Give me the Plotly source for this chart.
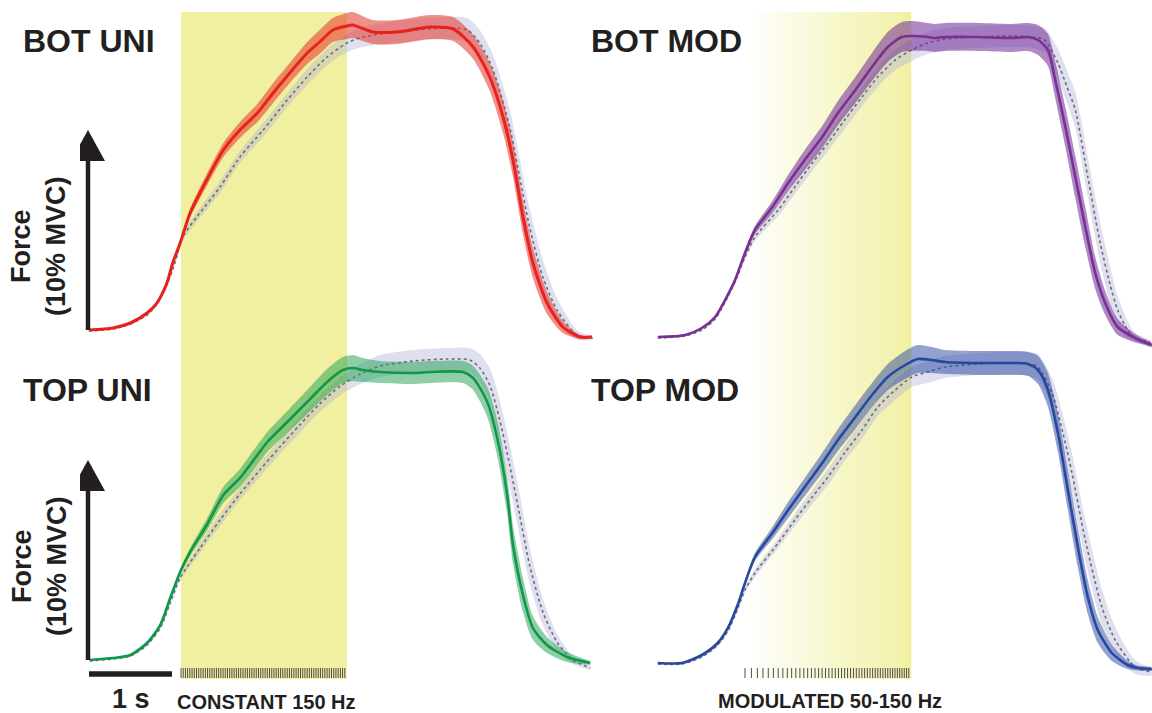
import numpy as np
import plotly.graph_objects as go

W, H = 1152, 713

# ---------------- data: time (s, 0 = stimulation onset), force (% MVC) ----------------
STIM_DUR = 2.0  # s

# BOT UNI (red) + its control
bu_t = [-1.11, -0.82, -0.61, -0.41, -0.29, -0.17, -0.10, -0.01, 0.11, 0.31, 0.51, 0.71, 0.92, 1.11, 1.31, 1.52, 1.67, 1.83,
        2.0, 2.07, 2.31, 2.60, 3.0, 3.28, 3.52, 3.72, 3.88, 4.0, 4.12, 4.24, 4.41, 4.60, 4.81, 4.95]
bu_f = [0.35, 0.45, 0.7, 1.2, 1.7, 2.7, 3.7, 4.7, 6.2, 7.85, 9.35, 10.35, 11.2, 12.2, 13.2, 14.2, 14.75, 15.35,
        15.55, 15.6, 15.25, 15.25, 15.5, 15.4, 14.5, 13.0, 11.0, 8.85, 6.0, 3.7, 1.7, 0.5, 0.0, 0.0]
bu_sd = [0.03, 0.03, 0.05, 0.08, 0.1, 0.12, 0.15, 0.18, 0.22, 0.3, 0.35, 0.4, 0.45, 0.5, 0.5, 0.55, 0.6, 0.6,
         0.65, 0.65, 0.6, 0.6, 0.6, 0.6, 0.6, 0.7, 0.8, 0.85, 0.85, 0.75, 0.55, 0.3, 0.1, 0.08]
bu_ctrl_t = [-1.11, -0.82, -0.61, -0.41, -0.29, -0.17, -0.07, 0.02, 0.19, 0.47, 0.71, 0.99, 1.28, 1.52, 1.76, 2.0,
             2.19, 2.60, 3.20, 3.45, 3.60, 3.76, 3.96, 4.08, 4.20, 4.36, 4.53, 4.77, 4.96]
bu_ctrl_f = [0.3, 0.4, 0.65, 1.1, 1.65, 2.6, 3.75, 5.0, 6.0, 7.5, 9.0, 10.35, 11.85, 13.0, 14.0, 14.7,
             15.0, 15.25, 15.45, 15.35, 14.7, 13.35, 10.5, 8.0, 5.5, 3.0, 1.35, 0.1, -0.05]
bu_ctrl_sd = [0.03, 0.03, 0.05, 0.08, 0.1, 0.12, 0.15, 0.2, 0.25, 0.3, 0.3, 0.35, 0.35, 0.4, 0.4, 0.45,
              0.5, 0.55, 0.55, 0.6, 0.65, 0.75, 0.9, 0.95, 0.95, 0.85, 0.6, 0.25, 0.1]

# TOP UNI (green) + its control
tu_t = [-1.10, -0.82, -0.61, -0.41, -0.25, -0.13, -0.01, 0.11, 0.31, 0.51, 0.71, 0.92, 1.04, 1.28, 1.52, 1.76,
        1.95, 2.07, 2.19, 2.40, 2.80, 3.0, 3.40, 3.52, 3.69, 3.81, 3.93, 4.0, 4.12, 4.24, 4.41, 4.65, 4.93]
tu_f = [0.15, 0.25, 0.4, 1.0, 1.9, 3.25, 4.55, 5.55, 6.9, 8.4, 9.25, 10.4, 11.05, 12.05, 13.05, 14.05,
        14.65, 14.75, 14.65, 14.55, 14.5, 14.55, 14.55, 14.25, 13.05, 11.25, 8.4, 5.9, 3.4, 1.75, 0.9, 0.3, 0.0]
tu_sd = [0.03, 0.03, 0.05, 0.08, 0.1, 0.12, 0.15, 0.2, 0.3, 0.4, 0.45, 0.5, 0.5, 0.55, 0.6, 0.65,
         0.65, 0.65, 0.6, 0.55, 0.55, 0.55, 0.55, 0.6, 0.75, 0.9, 0.95, 0.95, 0.85, 0.6, 0.4, 0.25, 0.1]
tu_ctrl_t = [-1.10, -0.82, -0.61, -0.41, -0.25, -0.13, -0.01, 0.23, 0.47, 0.71, 0.95, 1.19, 1.43, 1.67, 1.92, 2.16,
             2.40, 2.80, 3.20, 3.48, 3.60, 3.72, 3.84, 3.96, 4.08, 4.20, 4.36, 4.53, 4.72, 4.93]
tu_ctrl_f = [0.1, 0.2, 0.35, 0.9, 1.75, 3.0, 4.25, 5.75, 7.15, 8.45, 9.65, 10.8, 11.9, 12.95, 13.85, 14.45,
             14.85, 15.1, 15.2, 15.15, 14.75, 13.9, 12.15, 9.9, 7.4, 4.9, 2.55, 1.05, 0.15, -0.25]
tu_ctrl_sd = [0.03, 0.03, 0.05, 0.08, 0.1, 0.12, 0.15, 0.25, 0.3, 0.3, 0.35, 0.35, 0.4, 0.4, 0.45, 0.5,
              0.55, 0.55, 0.55, 0.6, 0.7, 0.85, 1.0, 1.05, 1.05, 0.9, 0.65, 0.4, 0.2, 0.1]

# BOT MOD (purple) + its control
bm_t = [-1.05, -0.72, -0.52, -0.36, -0.24, -0.12, 0.0, 0.12, 0.33, 0.52, 0.72, 0.93, 1.12, 1.33, 1.53, 1.72,
        1.89, 2.01, 2.20, 2.29, 2.41, 2.81, 3.22, 3.41, 3.53, 3.65, 3.73, 3.86, 3.98, 4.10, 4.22, 4.34, 4.49, 4.70, 4.90]
bm_f = [0.0, 0.1, 0.45, 1.0, 1.85, 2.85, 4.2, 5.35, 6.5, 7.7, 8.85, 10.0, 11.2, 12.35, 13.5, 14.5,
        15.0, 15.05, 15.0, 14.95, 15.0, 15.0, 14.95, 15.0, 14.85, 14.35, 13.0, 10.5, 8.0, 5.5, 3.2, 1.7, 0.5, -0.05, -0.4]
bm_sd = [0.03, 0.03, 0.05, 0.08, 0.1, 0.12, 0.15, 0.2, 0.3, 0.4, 0.5, 0.55, 0.6, 0.65, 0.7, 0.75,
         0.75, 0.75, 0.7, 0.7, 0.7, 0.7, 0.7, 0.7, 0.75, 0.8, 0.9, 1.0, 1.05, 1.0, 0.8, 0.6, 0.4, 0.2, 0.12]
bm_ctrl_t = [-1.05, -0.72, -0.52, -0.36, -0.24, -0.12, 0.0, 0.12, 0.40, 0.60, 0.81, 1.0, 1.20, 1.41, 1.60, 1.81,
             2.01, 2.20, 2.41, 2.81, 3.22, 3.46, 3.61, 3.77, 3.88, 3.98, 4.13, 4.28, 4.40, 4.49, 4.61, 4.70, 4.88]
bm_ctrl_f = [-0.05, 0.05, 0.35, 0.9, 1.75, 2.75, 4.0, 5.0, 6.35, 7.5, 8.7, 9.7, 10.85, 12.0, 13.0, 13.85,
             14.35, 14.7, 14.9, 15.0, 15.05, 15.0, 14.85, 13.7, 12.5, 11.35, 8.0, 4.7, 2.6, 1.35, 0.35, -0.05, -0.25]
bm_ctrl_sd = [0.03, 0.03, 0.05, 0.08, 0.1, 0.12, 0.15, 0.2, 0.3, 0.35, 0.4, 0.4, 0.45, 0.45, 0.5, 0.5,
              0.55, 0.55, 0.55, 0.55, 0.55, 0.55, 0.6, 0.7, 0.8, 0.9, 1.0, 1.0, 0.9, 0.7, 0.45, 0.25, 0.12]

# TOP MOD (blue) + its control
tm_t = [-1.05, -0.76, -0.52, -0.33, -0.20, -0.08, 0.0, 0.12, 0.33, 0.52, 0.72, 0.93, 1.12, 1.33, 1.53, 1.72,
        1.93, 2.08, 2.25, 2.41, 2.81, 3.01, 3.22, 3.41, 3.53, 3.65, 3.77, 3.89, 4.01, 4.13, 4.25, 4.42, 4.61, 4.73, 4.90]
tm_f = [0.0, 0.0, 0.4, 1.0, 1.8, 3.0, 4.0, 5.3, 6.5, 7.65, 8.8, 10.0, 11.15, 12.3, 13.4, 14.3,
        14.9, 15.2, 15.15, 15.05, 15.0, 15.0, 15.0, 14.95, 14.65, 13.65, 11.5, 8.65, 5.8, 3.3, 1.65, 0.5, -0.1, -0.25, -0.3]
tm_sd = [0.03, 0.03, 0.05, 0.08, 0.1, 0.12, 0.15, 0.2, 0.3, 0.4, 0.45, 0.5, 0.55, 0.6, 0.6, 0.65,
         0.7, 0.7, 0.65, 0.6, 0.6, 0.6, 0.6, 0.6, 0.7, 0.85, 0.95, 1.0, 1.0, 0.85, 0.65, 0.4, 0.2, 0.12, 0.1]
tm_ctrl_t = [-1.05, -0.76, -0.52, -0.33, -0.20, -0.08, 0.0, 0.12, 0.40, 0.60, 0.81, 1.0, 1.20, 1.41, 1.60, 1.81,
             2.01, 2.20, 2.41, 2.81, 3.22, 3.43, 3.53, 3.70, 3.83, 3.94, 4.10, 4.30, 4.46, 4.70, 4.90]
tm_ctrl_f = [-0.05, -0.05, 0.3, 0.9, 1.65, 2.8, 3.65, 4.5, 6.0, 7.15, 8.3, 9.3, 10.5, 11.65, 12.8, 13.65,
             14.3, 14.55, 14.8, 14.95, 15.0, 14.95, 14.8, 13.5, 11.5, 9.5, 6.15, 2.8, 1.15, -0.2, -0.45]
tm_ctrl_sd = [0.03, 0.03, 0.05, 0.08, 0.1, 0.12, 0.15, 0.2, 0.25, 0.3, 0.35, 0.4, 0.4, 0.45, 0.45, 0.5,
              0.5, 0.55, 0.55, 0.55, 0.55, 0.6, 0.65, 0.75, 0.9, 1.0, 1.0, 0.9, 0.65, 0.35, 0.2]

# stimulation trains
CONST_FREQ = 150.0            # Hz
MOD_F0, MOD_F1 = 50.0, 150.0  # Hz
PULSE_DECIMATION = 4          # every 4th pulse drawn

panel_titles = ["BOT UNI", "BOT MOD", "TOP UNI", "TOP MOD"]
stim_labels = ["CONSTANT 150 Hz", "MODULATED 50-150 Hz"]
force_label = "Force<br>(10% MVC)"
scale_label = "1 s"
ARROW_PCT = 10.0   # %MVC
SCALE_S = 1.0      # s

# ---------------- layout geometry ----------------
PX_PER_S = 83.0
PX_PER_PCT = 20.0
L_ONSET, R_ONSET = 181.0, 745.0
TOP_BASE, BOT_BASE = 337.0, 663.0
TEXT = "#231f20"
YELLOW = (241, 240, 160)
FONT = "Liberation Sans, Arial, Helvetica, sans-serif"


def xax(onset, p0, p1):
    return dict(domain=[p0 / W, p1 / W], range=[(p0 - onset) / PX_PER_S, (p1 - onset) / PX_PER_S],
                visible=False, fixedrange=True)


def yax(base, ptop, pbot):
    return dict(domain=[1 - pbot / H, 1 - ptop / H], range=[(base - pbot) / PX_PER_PCT, (base - ptop) / PX_PER_PCT],
                visible=False, fixedrange=True)


fig = go.Figure()

CTRL_BAND = "rgba(170,170,215,0.38)"
CTRL_LINE = "#6d6e71"


def add_panel(t, f, sd, ct, cf, csd, lcol, bcol, xa, ya, lw):
    common = dict(xaxis=xa, yaxis=ya, hoverinfo="skip", showlegend=False, mode="lines")
    sp = dict(shape="spline", smoothing=0.7)
    fig.add_trace(go.Scatter(x=ct, y=[a + b for a, b in zip(cf, csd)], line=dict(width=0, **sp), **common))
    fig.add_trace(go.Scatter(x=ct, y=[a - b for a, b in zip(cf, csd)], line=dict(width=0, **sp),
                             fill="tonexty", fillcolor=CTRL_BAND, **common))
    fig.add_trace(go.Scatter(x=ct, y=cf, line=dict(color=CTRL_LINE, width=1.6, dash="dot", **sp), **common))
    fig.add_trace(go.Scatter(x=t, y=[a + b for a, b in zip(f, sd)], line=dict(width=0, **sp), **common))
    fig.add_trace(go.Scatter(x=t, y=[a - b for a, b in zip(f, sd)], line=dict(width=0, **sp),
                             fill="tonexty", fillcolor=bcol, **common))
    fig.add_trace(go.Scatter(x=t, y=f, line=dict(color=lcol, width=lw, **sp), **common))


add_panel(bu_t, bu_f, bu_sd, bu_ctrl_t, bu_ctrl_f, bu_ctrl_sd, "#e8211d", "rgba(228,52,42,0.55)", "x", "y", 3.0)
add_panel(bm_t, bm_f, bm_sd, bm_ctrl_t, bm_ctrl_f, bm_ctrl_sd, "#7a2f93", "rgba(110,40,150,0.55)", "x2", "y2", 2.6)
add_panel(tu_t, tu_f, tu_sd, tu_ctrl_t, tu_ctrl_f, tu_ctrl_sd, "#12964a", "rgba(30,160,80,0.5)", "x3", "y3", 2.6)
add_panel(tm_t, tm_f, tm_sd, tm_ctrl_t, tm_ctrl_f, tm_ctrl_sd, "#27489e", "rgba(40,70,160,0.5)", "x4", "y4", 2.6)

# stimulation pulse ticks
const_pulses = np.arange(0, STIM_DUR * CONST_FREQ, PULSE_DECIMATION) / CONST_FREQ
k = np.arange(0, int((MOD_F0 + MOD_F1) / 2 * STIM_DUR), PULSE_DECIMATION)
slope = (MOD_F1 - MOD_F0) / STIM_DUR
mod_pulses = (-MOD_F0 + np.sqrt(MOD_F0 ** 2 + 2 * slope * k)) / slope
tick_lo, tick_hi = -0.75, -0.25


def tick_xy(times):
    xs, ys = [], []
    for tt in times:
        xs += [tt, tt, None]
        ys += [tick_lo, tick_hi, None]
    return xs, ys


for times, xa, ya in [(const_pulses, "x3", "y3"), (mod_pulses, "x4", "y4")]:
    xs, ys = tick_xy(times)
    fig.add_trace(go.Scatter(x=xs, y=ys, mode="lines", line=dict(color="#4d4d4d", width=1),
                             xaxis=xa, yaxis=ya, hoverinfo="skip", showlegend=False))

shapes = []
# constant stimulation: yellow block
shapes.append(dict(type="rect", xref="x", yref="paper", x0=0, x1=STIM_DUR,
                   y0=1 - 679 / H, y1=1 - 12 / H, fillcolor="rgb(%d,%d,%d)" % YELLOW,
                   line=dict(width=0), layer="below"))
# modulated stimulation: white -> yellow gradient
N = 84
for i in range(N):
    a = (i + 0.5) / N
    col = tuple(int(round(255 * (1 - a) + c * a)) for c in YELLOW)
    shapes.append(dict(type="rect", xref="x2", yref="paper", x0=STIM_DUR * i / N,
                       x1=STIM_DUR * (i + 1) / N + 0.004, y0=1 - 679 / H, y1=1 - 12 / H,
                       fillcolor="rgb(%d,%d,%d)" % col, line=dict(width=0), layer="below"))

# force scale arrows
arrow_t = (88 - L_ONSET) / PX_PER_S
head_h = 31 / PX_PER_PCT
head_hw = 17 / PX_PER_S
for f0, xr, yr in [(bu_f[0], "x", "y"), (tu_f[0], "x3", "y3")]:
    tip = f0 + ARROW_PCT
    shapes.append(dict(type="line", xref=xr, yref=yr, x0=arrow_t, x1=arrow_t, y0=f0, y1=tip - head_h + 0.1,
                       line=dict(color=TEXT, width=4.5)))
    shapes.append(dict(type="path", xref=xr, yref=yr,
                       path="M %f,%f L %f,%f L %f,%f Z" % (arrow_t - head_hw, tip - head_h, arrow_t + head_hw,
                                                            tip - head_h, arrow_t, tip),
                       fillcolor=TEXT, line=dict(width=0)))
# time scale bar
sb_t0 = (89 - L_ONSET) / PX_PER_S
sb_f = (BOT_BASE - 674) / PX_PER_PCT
shapes.append(dict(type="line", xref="x3", yref="y3", x0=sb_t0, x1=sb_t0 + SCALE_S, y0=sb_f, y1=sb_f,
                   line=dict(color=TEXT, width=5.5)))


def ann(text, px, py, size, xanchor="center", angle=0):
    return dict(text=text, x=px / W, y=1 - py / H, xref="paper", yref="paper", showarrow=False,
                xanchor=xanchor, yanchor="middle", textangle=angle,
                font=dict(family=FONT, size=size, color=TEXT, weight="bold"))


annotations = [
    ann(panel_titles[0], 21, 41, 32, "left"),
    ann(panel_titles[1], 589, 41, 32, "left"),
    ann(panel_titles[2], 21, 390, 32, "left"),
    ann(panel_titles[3], 589, 390, 32, "left"),
    ann(force_label, 39, 246, 27, angle=-90),
    ann(force_label, 39, 566, 27, angle=-90),
    ann(scale_label, 131, 699, 27),
    ann(stim_labels[0], 266, 702, 20),
    ann(stim_labels[1], 830, 701, 20),
]

fig.update_layout(
    width=W, height=H, margin=dict(l=0, r=0, t=0, b=0),
    paper_bgcolor="white", plot_bgcolor="rgba(0,0,0,0)",
    xaxis=xax(L_ONSET, 80, 600), yaxis=yax(TOP_BASE, 0, 352),
    xaxis2=xax(R_ONSET, 645, 1152), yaxis2=yax(TOP_BASE, 0, 352),
    xaxis3=xax(L_ONSET, 80, 600), yaxis3=yax(BOT_BASE, 340, 705),
    xaxis4=xax(R_ONSET, 645, 1152), yaxis4=yax(BOT_BASE, 340, 705),
    shapes=shapes, annotations=annotations, showlegend=False,
)

fig.write_html("out.html")
